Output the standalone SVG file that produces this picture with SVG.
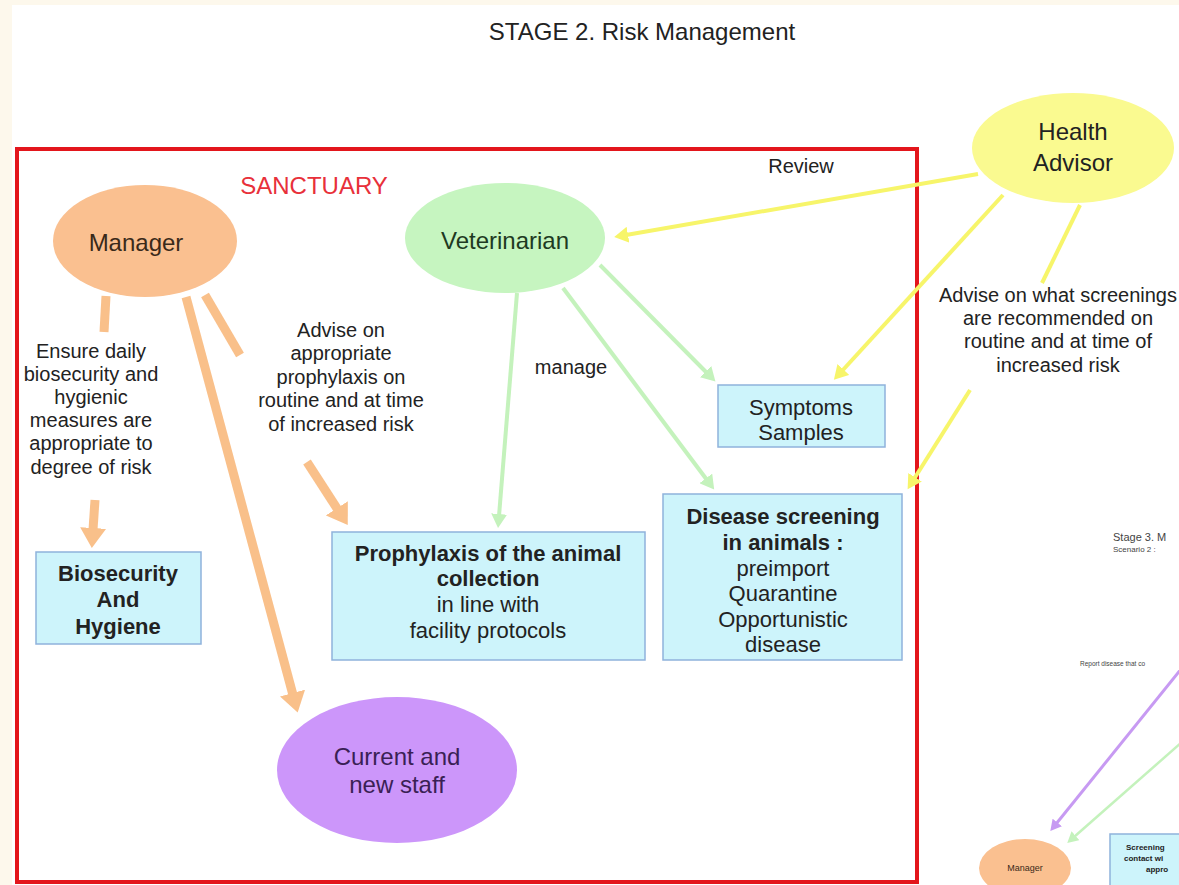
<svg xmlns="http://www.w3.org/2000/svg" width="1179" height="885" viewBox="0 0 1179 885">
<defs>
<style>
text{font-family:"Liberation Sans",Arial,sans-serif;fill:#222;text-anchor:middle}
.t20{font-size:20px}
.t22{font-size:22px}
.t24{font-size:24px}
.b{font-weight:bold}
.box{fill:#cdf4fb;stroke:#8fb2dc;stroke-width:1.5}
.or{stroke:#f9c08a;stroke-width:9;fill:none}
.gr{stroke:#c4f2bc;stroke-width:4;fill:none}
.ye{stroke:#f7f56a;stroke-width:4;fill:none}
.pu{stroke:#c79af2;stroke-width:3;fill:none}
.gr2{stroke:#c4f2bc;stroke-width:2.5;fill:none}
</style>
<marker id="mo" markerUnits="userSpaceOnUse" markerWidth="24" markerHeight="26" refX="2" refY="13" orient="auto"><path d="M0,0 L20,13 L0,26 z" fill="#f9c08a"/></marker>
<marker id="mg" markerUnits="userSpaceOnUse" markerWidth="16" markerHeight="16" refX="2" refY="8" orient="auto"><path d="M0,0 L14,8 L0,16 z" fill="#c4f2bc"/></marker>
<marker id="my" markerUnits="userSpaceOnUse" markerWidth="16" markerHeight="16" refX="2" refY="8" orient="auto"><path d="M0,0 L14,8 L0,16 z" fill="#f7f56a"/></marker>
<marker id="mp" markerUnits="userSpaceOnUse" markerWidth="12" markerHeight="12" refX="2" refY="6" orient="auto"><path d="M0,0 L11,6 L0,12 z" fill="#c79af2"/></marker>
<marker id="mg2" markerUnits="userSpaceOnUse" markerWidth="12" markerHeight="12" refX="2" refY="6" orient="auto"><path d="M0,0 L11,6 L0,12 z" fill="#c4f2bc"/></marker>
</defs>
<rect x="0" y="0" width="1179" height="885" fill="#fdf8ec"/>
<rect x="12" y="5" width="1167" height="880" fill="#ffffff"/>
<text class="t24" x="642" y="40">STAGE 2. Risk Management</text>
<rect id="sanctuary" x="17" y="149" width="900" height="733" fill="none" stroke="#e3161c" stroke-width="4"/>
<text class="t24" x="314" y="194" style="fill:#e8303a">SANCTUARY</text>
<text class="t20" x="801" y="173">Review</text>

<g id="connectors">
<line class="or" x1="106" y1="296" x2="104" y2="332"/>
<line class="or" x1="95" y1="500" x2="93" y2="530" marker-end="url(#mo)"/>
<line class="or" x1="205" y1="295" x2="240" y2="355"/>
<line class="or" x1="307" y1="462" x2="338" y2="510" marker-end="url(#mo)"/>
<line class="or" x1="186" y1="297" x2="293" y2="695" marker-end="url(#mo)"/>
<line class="gr" x1="517" y1="293" x2="499" y2="516" marker-end="url(#mg)"/>
<line class="gr" x1="600" y1="265" x2="707" y2="373" marker-end="url(#mg)"/>
<line class="gr" x1="563" y1="288" x2="707" y2="480" marker-end="url(#mg)"/>
<line class="ye" x1="978" y1="174" x2="626" y2="235" marker-end="url(#my)"/>
<line class="ye" x1="1003" y1="195" x2="842" y2="371" marker-end="url(#my)"/>
<line class="ye" x1="1080" y1="205" x2="1042" y2="283"/>
<line class="ye" x1="970" y1="390" x2="914" y2="479" marker-end="url(#my)"/>
<line class="pu" x1="1182" y1="668" x2="1056" y2="824" marker-end="url(#mp)"/>
<line class="gr2" x1="1182" y1="742" x2="1074" y2="837" marker-end="url(#mg2)"/>
</g>

<g id="manager">
<ellipse cx="145" cy="241" rx="92" ry="56" fill="#fac090"/>
<text class="t24" x="136" y="251" style="fill:#3a2a1a">Manager</text>
</g>
<g id="veterinarian">
<ellipse cx="505" cy="238" rx="100" ry="55" fill="#c6f5c0"/>
<text class="t24" x="505" y="249" style="fill:#1e3a22">Veterinarian</text>
</g>
<g id="health-advisor">
<ellipse cx="1073" cy="148" rx="101" ry="55" fill="#fafa90"/>
<text class="t24" x="1073" y="140">Health</text>
<text class="t24" x="1073" y="171">Advisor</text>
</g>
<g id="staff">
<ellipse cx="397" cy="770" rx="120" ry="73" fill="#cc96fa"/>
<text class="t24" x="397" y="765" style="fill:#3a1f55">Current and</text>
<text class="t24" x="397" y="793" style="fill:#3a1f55">new staff</text>
</g>
<g id="biosecurity">
<rect class="box" x="36" y="552" width="165" height="92"/>
<text class="t22 b" x="118" y="581">Biosecurity</text>
<text class="t22 b" x="118" y="607">And</text>
<text class="t22 b" x="118" y="634">Hygiene</text>
</g>
<g id="prophylaxis">
<rect class="box" x="332" y="532" width="313" height="128"/>
<text class="t22 b" x="488" y="561">Prophylaxis of the animal</text>
<text class="t22 b" x="488" y="586">collection</text>
<text class="t22" x="488" y="612">in line with</text>
<text class="t22" x="488" y="638">facility protocols</text>
</g>
<g id="screening">
<rect class="box" x="663" y="494" width="239" height="166"/>
<text class="t22 b" x="783" y="524">Disease screening</text>
<text class="t22 b" x="783" y="550">in animals :</text>
<text class="t22" x="783" y="576">preimport</text>
<text class="t22" x="783" y="601">Quarantine</text>
<text class="t22" x="783" y="627">Opportunistic</text>
<text class="t22" x="783" y="652">disease</text>
</g>
<g id="symptoms">
<rect class="box" x="718" y="385" width="167" height="62"/>
<text class="t22" x="801" y="415">Symptoms</text>
<text class="t22" x="801" y="440">Samples</text>
</g>
<g id="label-ensure">
<text class="t20" x="91" y="358">Ensure daily</text>
<text class="t20" x="91" y="381">biosecurity and</text>
<text class="t20" x="91" y="404">hygienic</text>
<text class="t20" x="91" y="427">measures are</text>
<text class="t20" x="91" y="450">appropriate to</text>
<text class="t20" x="91" y="474">degree of risk</text>
</g>
<g id="label-advise-prophylaxis">
<text class="t20" x="341" y="337">Advise on</text>
<text class="t20" x="341" y="360">appropriate</text>
<text class="t20" x="341" y="384">prophylaxis on</text>
<text class="t20" x="341" y="407">routine and at time</text>
<text class="t20" x="341" y="431">of increased risk</text>
</g>
<text class="t20" x="571" y="374">manage</text>
<g id="label-advise-screenings">
<text class="t20" x="1058" y="302">Advise on what screenings</text>
<text class="t20" x="1058" y="325">are recommended on</text>
<text class="t20" x="1058" y="348">routine and at time of</text>
<text class="t20" x="1058" y="372">increased risk</text>
</g>

<g id="stage3-fragment">
<text x="1113" y="541" style="font-size:11px;text-anchor:start;fill:#444">Stage 3. M</text>
<text x="1113" y="552" style="font-size:8px;text-anchor:start;fill:#444">Scenario 2 :</text>
<text x="1080" y="666" style="font-size:6.5px;text-anchor:start;fill:#444">Report disease that co</text>
<g id="stage3-manager">
<ellipse cx="1025" cy="868" rx="46" ry="29" fill="#fac090"/>
<text x="1025" y="871" style="font-size:9px;fill:#3a2a1a">Manager</text>
</g>
<g id="stage3-box">
<rect class="box" x="1110" y="834" width="80" height="60"/>
<text class="b" x="1126" y="850" style="font-size:8px;text-anchor:start">Screening</text>
<text class="b" x="1124" y="861" style="font-size:8px;text-anchor:start">contact wi</text>
<text class="b" x="1146" y="872" style="font-size:8px;text-anchor:start">appro</text>
</g>
</g>
</svg>
